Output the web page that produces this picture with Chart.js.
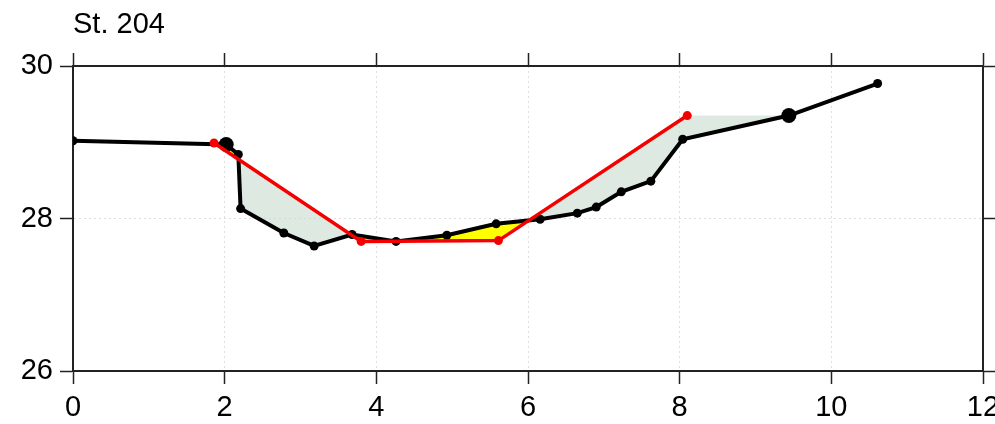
<!DOCTYPE html>
<html>
<head>
<meta charset="utf-8">
<title>St. 204</title>
<script src="https://cdn.jsdelivr.net/npm/chart.js@4.4.1/dist/chart.umd.min.js"></script>
<style>
  html, body { margin: 0; padding: 0; background: #fff; }
  #wrap { width: 995px; height: 424px; }
</style>
</head>
<body>
<div id="wrap"><canvas id="myChart" width="995" height="424"></canvas></div>
<script>
// Profil du terrain (ligne noire)
const groundX = [0, 2.02, 2.18, 2.21, 2.78, 3.18, 3.68, 4.26, 4.93, 5.58, 6.16, 6.65, 6.90, 7.23, 7.62, 8.04, 9.44, 10.61];
const groundY = [29.02, 28.97, 28.84, 28.13, 27.81, 27.64, 27.79, 27.70, 27.78, 27.93, 27.99, 28.07, 28.15, 28.35, 28.49, 29.04, 29.35, 29.77];
// Points de raccordement (gros points noirs), index dans groundX
const daylightIdx = [1, 16];

// Profil projeté (ligne rouge)
const designX = [1.86, 3.80, 5.61, 8.10];
const designY = [28.99, 27.70, 27.71, 29.35];

// Axes
const xTicks = [0, 2, 4, 6, 8, 10, 12];
const yTicks = [26, 28, 30];
const title = 'St. 204';

const FONT = "'Liberation Sans', Arial, Helvetica, sans-serif";
const greenFill = 'rgba(200, 220, 205, 0.6)';
const yellowFill = '#ffff00';

const groundData = groundX.map((x, i) => ({ x: x, y: groundY[i] }));
const designData = designX.map((x, i) => ({ x: x, y: designY[i] }));
// Limite de remplissage : profil projeté prolongé jusqu'au dernier raccordement
const lastDay = daylightIdx[daylightIdx.length - 1];
const fillTarget = designData.concat([{ x: groundX[lastDay], y: designY[designY.length - 1] }]);

const pointSizes = groundX.map((x, i) => daylightIdx.includes(i) ? 7.5 : 4.5);

function axisBase(min, max, step) {
    return {
        type: 'linear',
        min: min,
        max: max,
        ticks: { stepSize: step, color: '#000', font: { family: FONT, size: 29 }, padding: 7 },
        grid: {
            color: '#dedede',
            lineWidth: 1,
            tickColor: '#222',
            tickWidth: 1.5,
            tickLength: 13
        },
        border: { display: true, color: '#222', width: 2, dash: [2, 3] }
    };
}

// pas de marge pour les étiquettes qui débordent (le "12" est coupé)
function noPad(s) {
    s.paddingLeft = 0;
    s.paddingRight = 0;
    s.paddingTop = 0;
    s.paddingBottom = 0;
}

const xAxis = axisBase(0, 12, 2);
xAxis.position = 'bottom';
xAxis.afterBuildTicks = s => { s.ticks = xTicks.map(v => ({ value: v })); };
xAxis.afterFit = s => { s.height = 53; noPad(s); };

const yAxis = axisBase(26, 30, 2);
yAxis.position = 'left';
yAxis.afterBuildTicks = s => { s.ticks = yTicks.map(v => ({ value: v })); };
yAxis.afterFit = s => { s.width = 73; noPad(s); };

const x2Axis = axisBase(0, 12, 2);
x2Axis.position = 'top';
x2Axis.ticks.display = false;
x2Axis.grid.drawOnChartArea = false;
x2Axis.afterBuildTicks = s => { s.ticks = xTicks.map(v => ({ value: v })); };
x2Axis.title = {
    display: true,
    text: title,
    align: 'start',
    color: '#000',
    font: { family: FONT, size: 29, lineHeight: 1.2 },
    padding: { top: 8, bottom: 0 }
};
x2Axis.afterFit = s => { s.height = 66; noPad(s); };

const y2Axis = axisBase(26, 30, 2);
y2Axis.position = 'right';
y2Axis.ticks.display = false;
y2Axis.grid.drawOnChartArea = false;
y2Axis.afterBuildTicks = s => { s.ticks = yTicks.map(v => ({ value: v })); };
y2Axis.afterFit = s => { s.width = 12; noPad(s); };

const ctx = document.getElementById('myChart').getContext('2d');
const myChart = new Chart(ctx, {
    type: 'line',
    data: {
        datasets: [
            {
                label: 'Projet',
                data: designData,
                borderColor: 'rgb(245, 0, 0)',
                backgroundColor: 'rgb(245, 0, 0)',
                borderWidth: 3.5,
                pointRadius: 4.5,
                pointBorderWidth: 0,
                fill: false,
                order: 0
            },
            {
                label: 'Terrain',
                data: groundData,
                borderColor: '#000',
                backgroundColor: '#000',
                borderWidth: 4,
                pointRadius: pointSizes,
                pointBorderWidth: 0,
                fill: { target: 2, above: yellowFill, below: greenFill },
                order: 1
            },
            {
                label: 'Limite',
                data: fillTarget,
                borderWidth: 0,
                borderColor: 'rgba(0,0,0,0)',
                pointRadius: 0,
                fill: false,
                order: 2
            }
        ]
    },
    options: {
        responsive: false,
        animation: false,
        layout: { padding: 0 },
        scales: { x: xAxis, y: yAxis, x2: x2Axis, y2: y2Axis },
        plugins: {
            legend: { display: false },
            tooltip: { enabled: false },
            title: { display: false }
        }
    }
});
</script>
</body>
</html>
